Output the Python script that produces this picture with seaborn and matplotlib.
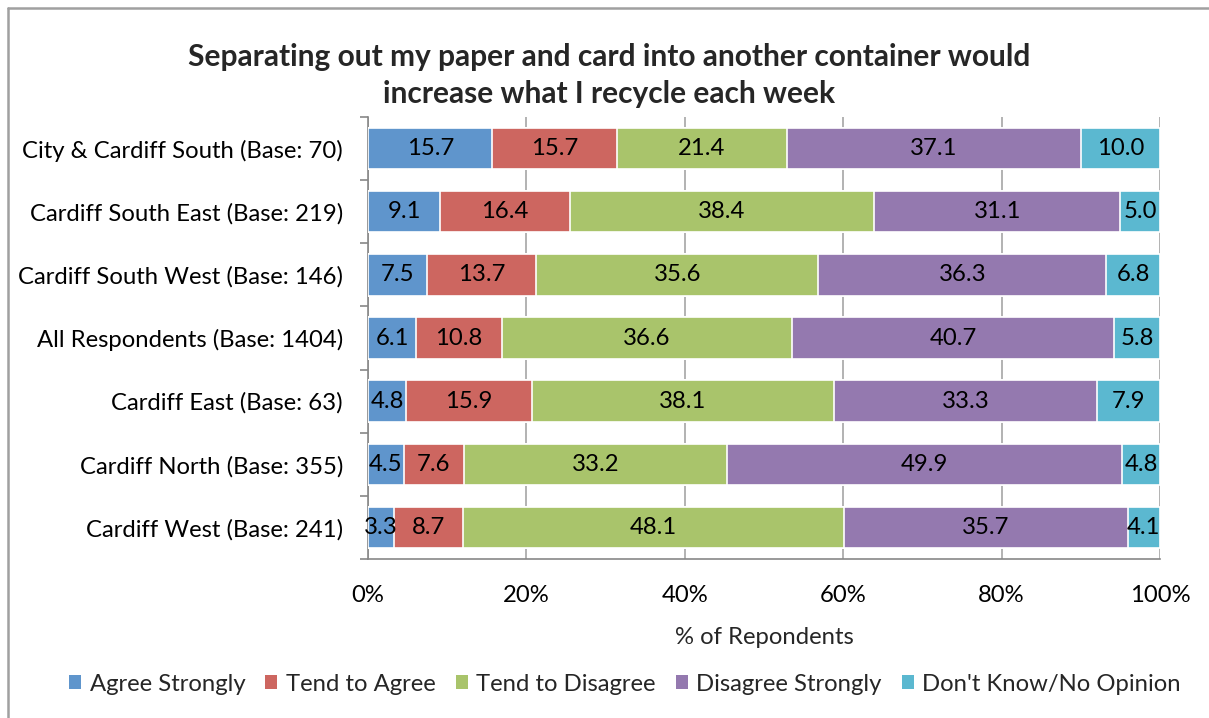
import numpy as np
import pandas as pd
import matplotlib
matplotlib.use("Agg")
import matplotlib.pyplot as plt
from matplotlib.patches import Rectangle
from matplotlib.lines import Line2D
from matplotlib.ticker import FixedLocator
import seaborn as sns

# Survey areas, top to bottom
areas = [
    "City & Cardiff South (Base: 70)",
    "Cardiff South East (Base: 219)",
    "Cardiff South West (Base: 146)",
    "All Respondents (Base: 1404)",
    "Cardiff East (Base: 63)",
    "Cardiff North (Base: 355)",
    "Cardiff West (Base: 241)",
]

responses = ["Agree Strongly", "Tend to Agree", "Tend to Disagree",
             "Disagree Strongly", "Don't Know/No Opinion"]

agree_strongly = [15.7, 9.1, 7.5, 6.1, 4.8, 4.5, 3.3]
tend_to_agree = [15.7, 16.4, 13.7, 10.8, 15.9, 7.6, 8.7]
tend_to_disagree = [21.4, 38.4, 35.6, 36.6, 38.1, 33.2, 48.1]
disagree_strongly = [37.1, 31.1, 36.3, 40.7, 33.3, 49.9, 35.7]
dont_know = [10.0, 5.0, 6.8, 5.8, 7.9, 4.8, 4.1]

colors = ["#5F95CC", "#CD6660", "#A9C46B", "#9479AF", "#5BB8D0"]

x_ticks = [0, 20, 40, 60, 80, 100]
x_tick_labels = ["0%", "20%", "40%", "60%", "80%", "100%"]

sns.set_theme(style="white")
plt.rcParams["font.family"] = ["Lato", "DejaVu Sans"]

FS = 17.2

values = pd.DataFrame(
    np.array([agree_strongly, tend_to_agree, tend_to_disagree,
              disagree_strongly, dont_know]).T,
    index=areas, columns=responses)
# 100% stacked: scale each row to its total
shares = values.div(values.sum(axis=1), axis=0) * 100
cum = shares.cumsum(axis=1)

fig = plt.figure(figsize=(12.09, 7.18), dpi=100)
ax = fig.add_axes([0.3044, 0.2214, 0.6551, 0.6156])

# Draw cumulative layers from the outermost inward so each segment shows
for i in range(len(responses) - 1, -1, -1):
    df = pd.DataFrame({"area": areas, "cum": cum.iloc[:, i].values})
    sns.barplot(data=df, x="cum", y="area", orient="h", color=colors[i],
                saturation=1, width=0.655, edgecolor="white", linewidth=1.2,
                ax=ax, zorder=3)

# Segment value labels
for r, area in enumerate(areas):
    starts = [0] + list(cum.loc[area].values[:-1])
    for j, resp in enumerate(responses):
        centre = starts[j] + shares.loc[area, resp] / 2
        ax.text(centre, r, f"{values.loc[area, resp]:.1f}", ha="center",
                va="center", fontsize=FS, color="black", zorder=5)

ax.set_xlim(0, 100)
ax.set_ylim(len(areas) - 0.5, -0.5)
ax.set_xticks(x_ticks)
ax.set_xticklabels(x_tick_labels, fontsize=FS)
ax.set_yticks(range(len(areas)))
ax.set_yticklabels(areas, fontsize=FS)
ax.set_xlabel("% of Repondents", fontsize=FS, labelpad=15)
ax.set_ylabel("")

# Gridlines and axis styling
ax.grid(axis="x", color="#A6A6A6", linewidth=1.2, zorder=0)
ax.grid(axis="y", visible=False)
for side in ["top", "right"]:
    ax.spines[side].set_visible(False)
for side in ["left", "bottom"]:
    ax.spines[side].set_color("#878787")
    ax.spines[side].set_linewidth(1.2)
ax.tick_params(axis="x", which="major", direction="out", length=6,
               color="#878787", width=1.2, pad=13, labelcolor="black")
ax.tick_params(axis="y", which="major", length=0, pad=18, labelcolor="black")
ax.yaxis.set_minor_locator(FixedLocator(np.arange(-0.5, len(areas), 1)))
ax.tick_params(axis="y", which="minor", direction="out", length=6,
               color="#878787", width=1.2, left=True)

# Title
fig.text(0.5035, 0.895,
         "Separating out my paper and card into another container would\n"
         "increase what I recycle each week",
         ha="center", va="center", fontsize=21.5, fontweight="bold",
         linespacing=1.38)

# Legend
handles = [Rectangle((0, 0), 1, 1, facecolor=c, edgecolor="none") for c in colors]
fig.legend(handles, responses, loc="center", bbox_to_anchor=(0.517, 0.047),
           ncol=5, frameon=False, fontsize=FS, handlelength=0.5,
           handleheight=0.5, handletextpad=0.35, columnspacing=0.85)

# Chart frame (top and left edges)
bx, by = 7.5 / 1209, 1 - 7.5 / 718
fig.lines.append(Line2D([bx, 1.0], [by, by], transform=fig.transFigure,
                        color="#A0A0A0", linewidth=1.8))
fig.lines.append(Line2D([bx, bx], [0.0, by], transform=fig.transFigure,
                        color="#A0A0A0", linewidth=1.8))

fig.savefig("out.png", dpi=100, facecolor="white")
